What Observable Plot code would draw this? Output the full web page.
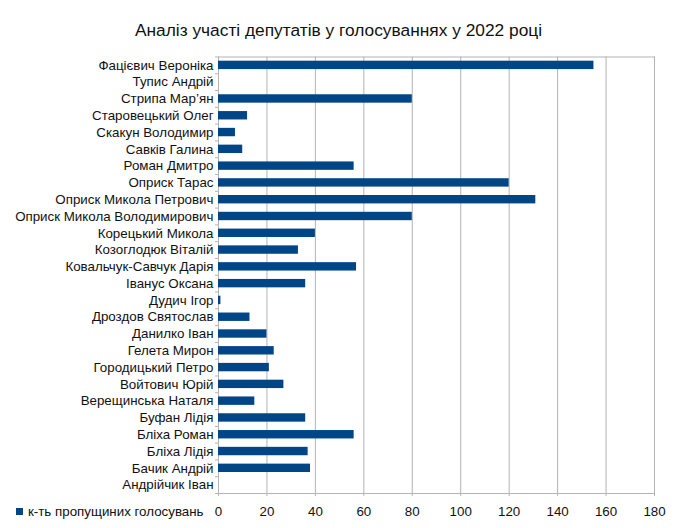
<!DOCTYPE html>
<html>
<head>
<meta charset="utf-8">
<script src="https://cdn.jsdelivr.net/npm/d3@7"></script>
<script src="https://cdn.jsdelivr.net/npm/@observablehq/plot@0.6"></script>
<style>
  html, body { margin: 0; padding: 0; background: #fff; overflow: hidden; }
  #wrap { position: relative; width: 677px; height: 528px; font-family: "Liberation Sans", Arial, sans-serif; }
  #chart svg { display: block; position: absolute; left: 0; top: 0; }
  #title { position: absolute; left: 0; top: 19px; width: 677px; text-align: center; font-size: 17.33px; line-height: 22px; color: #111; }
  #legend { position: absolute; left: 16px; top: 502px; height: 18px; font-size: 13.33px; color: #111; display: flex; align-items: center; }
  #legend .sw { width: 7px; height: 7px; background: #004586; margin-right: 5px; }
</style>
</head>
<body>
<div id="wrap">
  <div id="chart"></div>
  <div id="title">Аналіз участі депутатів у голосуваннях у 2022 році</div>
  <div id="legend"><span class="sw"></span><span id="legtext"></span></div>
</div>
<script>
const names = [
  "Фацієвич Вероніка",
  "Тупис Андрій",
  "Стрипа Мар’ян",
  "Старовецький Олег",
  "Скакун Володимир",
  "Савків Галина",
  "Роман Дмитро",
  "Оприск Тарас",
  "Оприск Микола Петрович",
  "Оприск Микола Володимирович",
  "Корецький Микола",
  "Козоглодюк Віталій",
  "Ковальчук-Савчук Дарія",
  "Іванус Оксана",
  "Дудич Ігор",
  "Дроздов Святослав",
  "Данилко Іван",
  "Гелета Мирон",
  "Городицький Петро",
  "Войтович Юрій",
  "Верещинська Наталя",
  "Буфан Лідія",
  "Бліха Роман",
  "Бліха Лідія",
  "Бачик Андрій",
  "Андрійчик Іван"
];
const missed = [155, 0, 80, 12, 7, 10, 56, 120, 131, 80, 40, 33, 57, 36, 1, 13, 20, 23, 21, 27, 15, 36, 56, 37, 38, 0];
const xTicks = [0, 20, 40, 60, 80, 100, 120, 140, 160, 180];
const seriesName = "к-ть пропущиних голосувань";

const data = names.map((n, i) => ({name: n, value: missed[i]}));
document.getElementById("legtext").textContent = seriesName;

const grid = "#b3b3b3";
const chart = Plot.plot({
  width: 677,
  height: 528,
  marginTop: 56.5,
  marginBottom: 35,
  marginLeft: 218,
  marginRight: 23,
  style: {fontFamily: "Liberation Sans, Arial, sans-serif", fontSize: "13.33px", color: "#111", background: "#fff"},
  x: {domain: [0, 180], ticks: xTicks},
  y: {domain: names, paddingInner: 0.5, paddingOuter: 0.25, round: false},
  marks: [
    Plot.gridX(xTicks, {stroke: grid, strokeOpacity: 1}),
    Plot.frame({stroke: grid}),
    Plot.barX(data, {y: "name", x: "value", fill: "#004586"}),
    Plot.axisX(xTicks, {tickSize: 3, tickPadding: 10, stroke: grid, label: null, fontSize: 13.33}),
    Plot.axisY({tickSize: 0, tickPadding: 5, label: null, fontSize: 13.33}),
    Plot.axisY({tickSize: 3, text: null, dy: -8.4, stroke: grid, label: null}),
    Plot.axisY([names[names.length - 1]], {tickSize: 3, text: null, dy: 8.4, stroke: grid, label: null})
  ]
});
document.getElementById("chart").appendChild(chart);
</script>
</body>
</html>
